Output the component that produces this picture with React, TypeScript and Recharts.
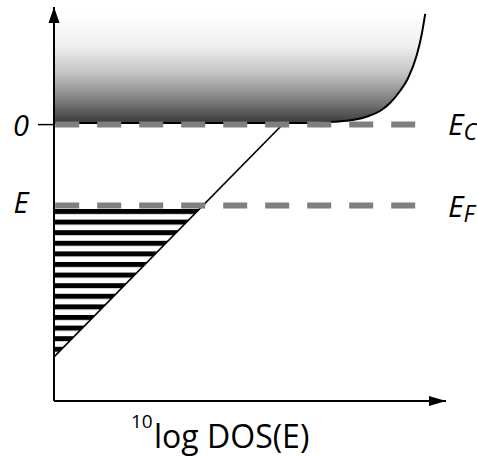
import {
  ComposedChart,
  Area,
  Line,
  XAxis,
  YAxis,
  ReferenceLine,
  ReferenceDot,
} from 'recharts';

// energy axis: 0 = conduction band edge, units are arbitrary
const X_MAX = 9.8;
const Y_MIN = -6.95;
const Y_MAX = 2.9;
const CB_TOP = 2.73;

// conduction band DOS edge (flat then rising steeply)
const cbX = [0, 6.4, 7.0, 7.5, 7.85, 8.15, 8.4, 8.65, 8.85, 9.07, 9.19, 9.28];
const cbY = [0, 0, 0.03, 0.08, 0.17, 0.3, 0.5, 0.8, 1.12, 1.7, 2.2, 2.73];

// band tail (straight on log scale)
const tailX = [0, 5.75];
const tailY = [-5.85, 0];

// filled states below the Fermi level
const filledX = [0, 3.67];
const filledLow = [-5.85, -2.12];
const filledHigh = [-2.12, -2.12];

const levelY = [-0.04, -2.06];
const leftLabels = ['0', 'E'];
const rightSubs = ['C', 'F'];

const cbCurve = cbX.map((x, i) => ({ x, y: cbY[i] }));
const cbBand = cbX.map((x, i) => ({ x, band: [cbY[i], CB_TOP] }));
const tail = tailX.map((x, i) => ({ x, y: tailY[i] }));
const filled = filledX.map((x, i) => ({ x, band: [filledLow[i], filledHigh[i]] }));

const FONT = '"Open Sans", sans-serif';
const leftDy = [11.4, 8];
const rightDy = [10.5, 11.3];

const LeftTick = (props: any) => {
  const { x, y, payload } = props;
  const i = levelY.indexOf(payload.value);
  if (i < 0) return null;
  return (
    <g>
      {i === 0 && <line x1={x - 16} x2={x} y1={y} y2={y} stroke="#000" strokeWidth={1.5} />}
      <text
        x={x - 33}
        y={y + leftDy[i]}
        textAnchor="middle"
        fontFamily={FONT}
        fontStyle="italic"
        fontSize={29}
        fill="#000"
      >
        {leftLabels[i]}
      </text>
    </g>
  );
};

const RightTick = (props: any) => {
  const { x, y, payload } = props;
  const i = levelY.indexOf(payload.value);
  if (i < 0) return null;
  return (
    <text x={x + 2} y={y + rightDy[i]} fontFamily={FONT} fontStyle="italic" fontSize={30} fill="#000">
      E
      <tspan fontSize={23} dy={5}>
        {rightSubs[i]}
      </tspan>
    </text>
  );
};

const XLabel = (props: any) => {
  const { x, y } = props.viewBox;
  return (
    <g fontFamily={FONT} fill="#000">
      <text x={x + 77} y={y + 27} fontSize={19}>
        10
      </text>
      <text x={x + 100} y={y + 47} fontSize={32}>
        log DOS(E)
      </text>
    </g>
  );
};

export default function App() {
  return (
    <div style={{ position: 'absolute', left: 0, top: 0 }}>
      <ComposedChart width={477} height={456} margin={{ top: 7, right: 0, bottom: 0, left: 0 }}>
        <defs>
          <linearGradient id="cbGrad" x1="0" y1="0" x2="0" y2="1">
            <stop offset="0%" stopColor="#ffffff" />
            <stop offset="30%" stopColor="#eeeeee" />
            <stop offset="55%" stopColor="#c2c2c2" />
            <stop offset="78%" stopColor="#828282" />
            <stop offset="100%" stopColor="#3a3a3a" />
          </linearGradient>
          <pattern id="stripes" patternUnits="userSpaceOnUse" x="0" y="209" width="8" height="10.6">
            <rect x="0" y="0" width="8" height="5" fill="#000" />
          </pattern>
        </defs>
        <XAxis
          type="number"
          dataKey="x"
          domain={[0, X_MAX]}
          allowDataOverflow
          height={55}
          tick={false}
          tickLine={false}
          axisLine={{ stroke: '#000', strokeWidth: 2 }}
          label={{ content: XLabel }}
        />
        <YAxis
          type="number"
          domain={[Y_MIN, Y_MAX]}
          allowDataOverflow
          width={54}
          ticks={levelY}
          interval={0}
          tickSize={0}
          tickMargin={0}
          tickLine={false}
          axisLine={{ stroke: '#000', strokeWidth: 2 }}
          tick={LeftTick}
        />
        <YAxis
          yAxisId="r"
          orientation="right"
          type="number"
          domain={[Y_MIN, Y_MAX]}
          allowDataOverflow
          width={31}
          ticks={levelY}
          interval={0}
          tickSize={0}
          tickMargin={0}
          tickLine={false}
          axisLine={false}
          tick={RightTick}
        />
        <Area
          data={cbBand}
          dataKey="band"
          type="monotone"
          stroke="none"
          fill="url(#cbGrad)"
          fillOpacity={1}
          isAnimationActive={false}
        />
        <Area
          data={filled}
          dataKey="band"
          type="linear"
          stroke="none"
          fill="url(#stripes)"
          fillOpacity={1}
          isAnimationActive={false}
        />
        <Line
          data={cbCurve}
          dataKey="y"
          type="monotone"
          stroke="#000"
          strokeWidth={2}
          dot={false}
          isAnimationActive={false}
        />
        <Line
          data={tail}
          dataKey="y"
          type="linear"
          stroke="#000"
          strokeWidth={1.7}
          dot={false}
          isAnimationActive={false}
        />
        {levelY.map((v) => (
          <ReferenceLine
            key={v}
            segment={[
              { x: 0.03, y: v },
              { x: 9.05, y: v },
            ]}
            stroke="#7f7f7f"
            strokeWidth={6}
            strokeDasharray="24 18"
          />
        ))}
        <ReferenceDot
          x={0}
          y={Y_MAX}
          ifOverflow="visible"
          shape={(p: any) => <path d={`M${p.cx},${p.cy} l-5.5,16 l11,0 z`} fill="#000" />}
        />
        <ReferenceDot
          x={X_MAX}
          y={Y_MIN}
          ifOverflow="visible"
          shape={(p: any) => <path d={`M${p.cx},${p.cy} l-17,-5 l0,10 z`} fill="#000" />}
        />
      </ComposedChart>
    </div>
  );
}
